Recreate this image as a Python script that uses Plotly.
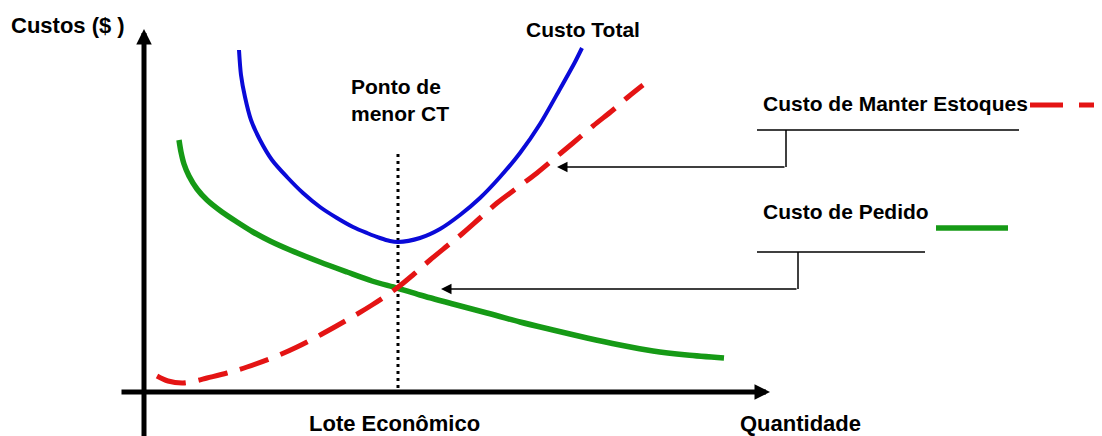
import plotly.graph_objects as go

# curvas (quantidade x custo, origem no cruzamento dos eixos)
ct_x = [95, 97, 101, 107, 116, 128, 143, 159, 176, 193, 209, 223, 236, 246, 254,
        276, 296, 316, 336, 356, 376, 396, 416, 431, 438]
ct_y = [342, 317, 295, 272, 252, 232, 215, 199, 185, 174, 165, 159, 154, 151, 150,
        154, 163, 177, 194, 215, 239, 268, 303, 330, 344]

manter_x = [13, 24, 39, 51, 63, 83, 103, 128, 153, 178, 203, 228, 253, 270, 286,
            303, 319, 336, 353, 373, 393, 411, 429, 449, 469, 484, 499]
manter_y = [16, 11, 9, 11, 14, 19, 25, 34, 45, 58, 72, 87, 104, 118, 132,
            146, 159, 174, 189, 204, 219, 234, 249, 266, 282, 295, 307]

pedido_x = [35, 37, 40, 45, 53, 63, 78, 93, 109, 126, 146, 176, 203, 228, 253,
            276, 309, 343, 376, 409, 443, 476, 509, 543, 580]
pedido_y = [252, 240, 228, 216, 203, 192, 180, 170, 160, 151, 142, 130, 120, 111, 104,
            97, 88, 79, 70, 62, 54, 47, 41, 37, 34]

lote_x = 254
lote_y = [4, 239]

FONT = "Liberation Sans, Arial, sans-serif"
AZUL = "#0a0ad8"
VERMELHO = "#e41414"
VERDE = "#169a16"

fig = go.Figure()

fig.add_trace(go.Scatter(x=[lote_x, lote_x], y=lote_y, mode="lines",
                         line=dict(color="black", width=3, dash="3px,4px")))
fig.add_trace(go.Scatter(x=pedido_x, y=pedido_y, mode="lines", line_shape="spline",
                         line=dict(color=VERDE, width=5.5, smoothing=0.8)))
fig.add_trace(go.Scatter(x=manter_x, y=manter_y, mode="lines", line_shape="spline",
                         line=dict(color=VERMELHO, width=5, dash="30px,13px")))
fig.add_trace(go.Scatter(x=ct_x, y=ct_y, mode="lines", line_shape="spline",
                         line=dict(color=AZUL, width=4, smoothing=0.8)))

# amostras de legenda ao lado dos rótulos
fig.add_shape(type="line", x0=886, x1=975, y0=287, y1=287,
              line=dict(color=VERMELHO, width=5, dash="33px,16px"))
fig.add_shape(type="line", x0=792, x1=864, y0=164, y1=164,
              line=dict(color=VERDE, width=5.5))

# conectores
for x0, x1, y0, y1 in [(613, 875, 262, 262), (642, 642, 262, 225),
                       (613, 781, 140, 140), (654, 654, 140, 103)]:
    fig.add_shape(type="line", x0=x0, x1=x1, y0=y0, y1=y1,
                  line=dict(color="black", width=1.5))

arrows = [
    # (ponta x, ponta y, cauda x, cauda y, largura, tamanho)
    (413, 225, 642, 225, 1.5, 1.4),
    (297, 103, 654, 103, 1.5, 1.4),
    (0, 363, 0, -48, 5, 0.62),
    (626, 0, -24, 0, 5, 0.62),
]
for x, y, ax, ay, w, s in arrows:
    fig.add_annotation(x=x, y=y, ax=ax, ay=ay, xref="x", yref="y", axref="x", ayref="y",
                       text="", showarrow=True, arrowhead=2, arrowsize=s,
                       arrowwidth=w, arrowcolor="black", standoff=0)

labels = [
    ("<b>Custos ($ )</b>", -76, 367, "center", 22),
    ("<b>Custo Total</b>", 439, 363, "center", 21),
    ("<b>Ponto de<br>menor CT</b>", 205, 292, "left", 21),
    ("<b>Custo de Manter Estoques</b>", 617, 289, "left", 21),
    ("<b>Custo de Pedido</b>", 617, 181, "left", 21),
    ("<b>Lote Econômico</b>", 250, -31, "center", 22),
    ("<b>Quantidade</b>", 656, -31, "center", 22),
]
for txt, x, y, anchor, size in labels:
    fig.add_annotation(x=x, y=y, xref="x", yref="y", text=txt, showarrow=False,
                       xanchor=anchor, yanchor="middle", align="left",
                       font=dict(family=FONT, size=size, color="black"))

# a página tem 8px de margem no corpo: desloca os intervalos para compensar
fig.update_layout(
    width=1102,
    height=436,
    margin=dict(l=0, r=0, t=0, b=0),
    paper_bgcolor="white",
    plot_bgcolor="white",
    showlegend=False,
    xaxis=dict(range=[-136, 966], visible=False, fixedrange=True),
    yaxis=dict(range=[-52, 384], visible=False, fixedrange=True),
)

fig.write_html("out.html")
